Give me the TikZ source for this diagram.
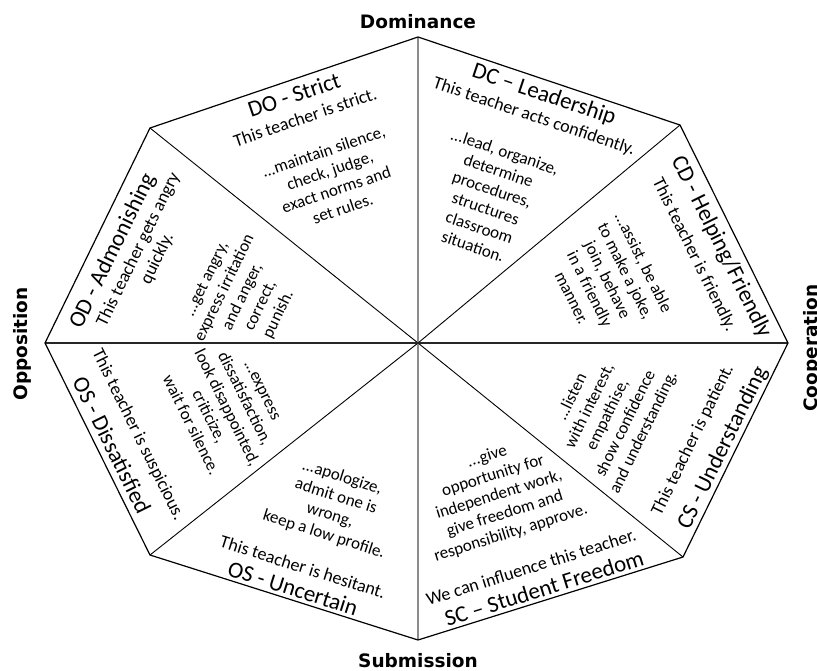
\documentclass[tikz,border=0pt]{standalone}
\usepackage{fontspec}
\setmainfont{Carlito}
\newfontfamily\axisfont{DejaVu Sans}
\begin{document}
\begin{tikzpicture}[x=1pt,y=-1pt,
  title/.style={inner sep=0pt,font=\fontsize{23}{26}\selectfont},
  who/.style={inner sep=0pt,align=center,font=\fontsize{18}{21}\selectfont},
  acts/.style={inner sep=0pt,align=center,font=\fontsize{17}{20}\selectfont},
  axis/.style={inner sep=0pt,anchor=base,font=\axisfont\bfseries\fontsize{18.5}{22}\selectfont},
  rim/.style={line width=1.2pt,line join=round},
  spoke/.style={line width=0.9pt},
  vspoke/.style={line width=1.8pt,draw=black!45},
  hspoke/.style={line width=1.8pt,draw=black!85},
]
\useasboundingbox (0,0) rectangle (817,670);

% octagon corners and centre
\coordinate (O)  at (418,343);
\coordinate (T)  at (418,37);
\coordinate (UR) at (680,125);
\coordinate (R)  at (788,343);
\coordinate (LR) at (683,557);
\coordinate (B)  at (418,640);
\coordinate (LL) at (150,555);
\coordinate (L)  at (45,343);
\coordinate (UL) at (150,128);

% spokes
\draw[spoke] (O) -- (UR);
\draw[spoke] (O) -- (LR);
\draw[spoke] (O) -- (LL);
\draw[spoke] (O) -- (UL);
\draw[vspoke] (T) -- (B);
\draw[hspoke] (L) -- (R);
% rim
\draw[rim] (T) -- (UR) -- (R) -- (LR) -- (B) -- (LL) -- (L) -- (UL) -- cycle;

% axis labels
\node[axis] (dom) at (418,28) {Dominance};
\node[axis] (sub) at (418,667) {Submission};
\node[axis,rotate=90] (opp) at (27.5,344) {Opposition};
\node[axis,rotate=90] (coo) at (817.5,348) {Cooperation};

% DO - Strict
\node[title,rotate=18.8] (doT) at (294,95) {DO - Strict};
\node[who,rotate=18.8] (doW) at (305,117) {This teacher is strict.};
\node[acts,rotate=18.8] (doA) at (333,180) {...maintain silence,\\check, judge,\\exact norms and\\set rules.};

% DC - Leadership
\node[title,rotate=-18.6] (dcT) at (544,95) {DC – Leadership};
\node[who,rotate=-18.6] (dcW) at (534,117) {This teacher acts confidently.};
\node[acts,rotate=-18.6] (dcA) at (489,199) {...lead, organize,\\determine\\procedures,\\structures\\classroom\\situation.};

% CD - Helping/Friendly
\node[title,rotate=-63.6] (cdT) at (721,247) {CD - Helping/Friendly};
\node[who,rotate=-63.6] (cdW) at (694,255) {This teacher is friendly.};
\node[acts,rotate=-63.6] (cdA) at (608,280) {...assist, be able\\to make a joke,\\join, behave\\in a friendly\\manner.};

% CS - Understanding
\node[title,rotate=63.9] (csT) at (723,448) {CS - Understanding};
\node[who,rotate=63.9] (csW) at (693,440) {This teacher is patient.};
\node[acts,rotate=63.9] (csA) at (608,415) {...listen\\with interest,\\empathise,\\show confidence\\and understanding.};

% SC - Student Freedom
\node[title,rotate=17.4] (scT) at (544,588) {SC – Student Freedom};
\node[who,rotate=17.4] (scW) at (531,567) {We can influence this teacher.};
\node[acts,rotate=17.4] (scA) at (499,495) {...give\\opportunity for\\independent work,\\give freedom and\\responsibility, approve.};

% OS - Uncertain
\node[title,rotate=-17.6] (suT) at (293,588) {OS - Uncertain};
\node[who,rotate=-17.6] (suW) at (303,567) {This teacher is hesitant.};
\node[acts,rotate=-17.6] (suA) at (333,506) {...apologize,\\admit one is\\wrong,\\keep a low profile.};

% OS - Dissatisfied
\node[title,rotate=-63.7] (sdT) at (112,445) {OS - Dissatisfied};
\node[who,rotate=-63.7] (sdW) at (138,435) {This teacher is suspicious.};
\node[acts,rotate=-63.7] (sdA) at (226,408) {...express\\dissatisfaction,\\look disappointed,\\criticize,\\wait for silence.};

% OD - Admonishing
\node[title,rotate=64] (odT) at (113,251) {OD - Admonishing};
\node[who,rotate=64] (odW) at (148,254) {This teacher gets angry\\quickly.};
\node[acts,rotate=64] (odA) at (243,297) {...get angry,\\express irritation\\and anger,\\correct,\\punish.};
\end{tikzpicture}
\end{document}
